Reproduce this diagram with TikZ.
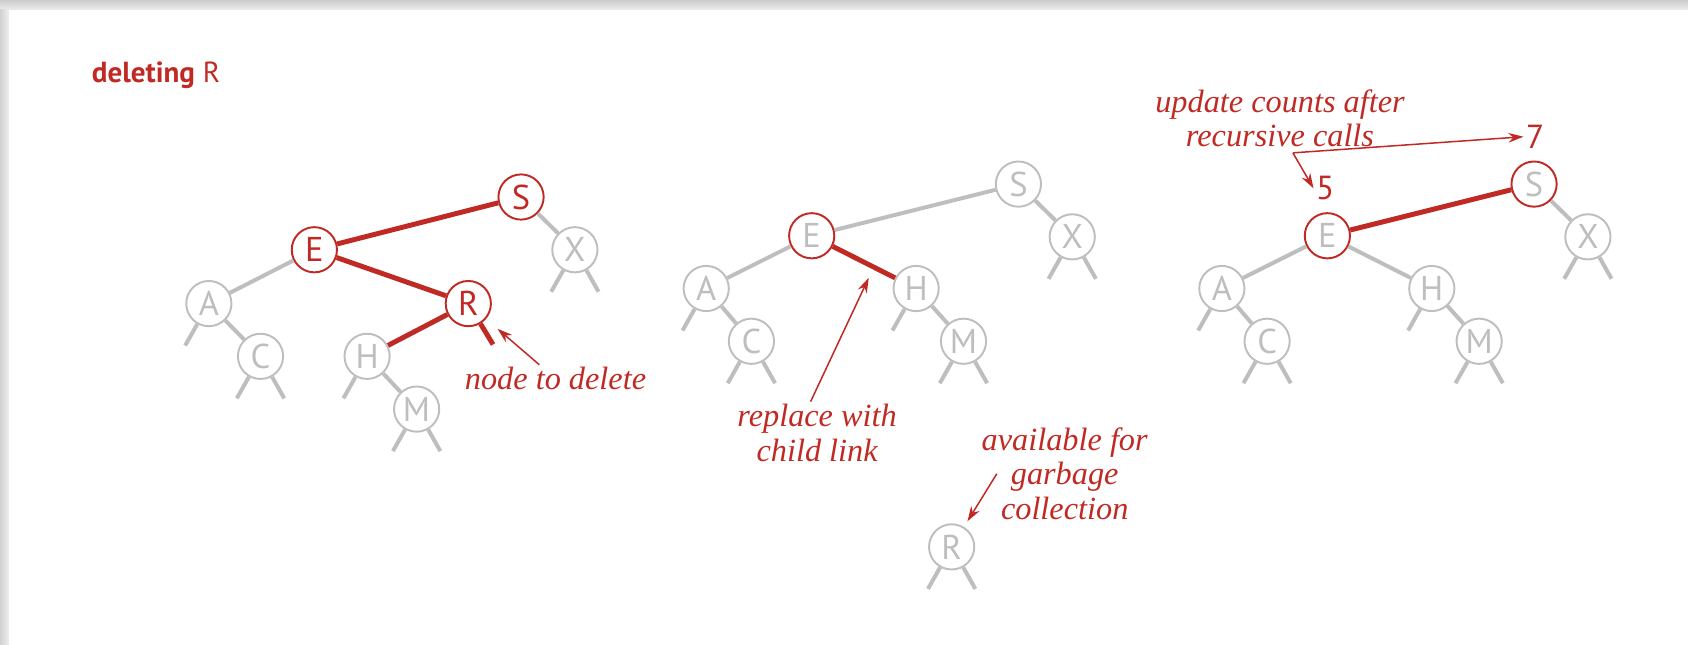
\documentclass[tikz,border=0pt]{standalone}
\usepackage{fontspec}
\setmainfont{Liberation Serif}
\setsansfont{PT Sans}
\usetikzlibrary{arrows.meta}

\definecolor{bstred}{RGB}{192,42,36}
\definecolor{bstgray}{RGB}{190,190,193}

\tikzset{
  bstnode/.style={circle, draw=bstgray, text=bstgray, line width=0.9pt,
    minimum size=21pt, inner sep=0pt, font=\sffamily\fontsize{16}{16}\selectfont},
  hotnode/.style={bstnode, draw=bstred, text=bstred},
  marknode/.style={bstnode, draw=bstred},
  treelink/.style={bstgray, line width=1.85pt},
  hotlink/.style={bstred, line width=2.3pt},
  remark/.style={text=bstred, align=center, inner sep=1pt,
    font=\itshape\fontsize{15}{16}\selectfont},
  sizelabel/.style={text=bstred, inner sep=1pt, font=\sffamily\fontsize{15.5}{15.5}\selectfont},
  pointer/.style={bstred, line width=0.7pt, -{Stealth[length=7pt, width=4.5pt]}}
}

\begin{document}
\begin{tikzpicture}[x=0.5pt, y=-0.5pt]
  \useasboundingbox (0,0) rectangle (1568,599);
  %--- page shadow ---
  \shade[top color=black!20, bottom color=black!8] (0,0) rectangle (1568,8.4);
  \shade[left color=black!18, right color=black!6] (0,8.4) rectangle (8.4,599);
  %--- title ---
  \node[anchor=base west, inner sep=0pt, text=bstred,
    font=\sffamily\fontsize{13.5}{13.5}\selectfont] (title) at (85,77) {\textbf{deleting} R};

  %--- tree 1: R found ---
  \node[hotnode] (s1) at (484,183) {S};
  \node[hotnode] (e1) at (292,232) {E};
  \node[bstnode] (x1) at (534,232) {X};
  \node[bstnode] (a1) at (194,282) {A};
  \node[hotnode] (r1) at (435,282) {R};
  \node[bstnode] (c1) at (242,331) {C};
  \node[bstnode] (h1) at (341,331) {H};
  \node[bstnode] (m1) at (387,380) {M};
  \draw[hotlink] (s1) -- (e1);
  \draw[hotlink] (e1) -- (r1);
  \draw[hotlink] (r1) -- (h1);
  \draw[hotlink] (r1) -- ++(23,38);
  \foreach \u/\v in {s1/x1, e1/a1, a1/c1, h1/m1}
    \draw[treelink] (\u) -- (\v);
  % null links
  \foreach \n in {a1, c1, h1, m1, x1}
    \draw[treelink] (\n) -- ++(-22,39);
  \foreach \n in {c1, m1, x1}
    \draw[treelink] (\n) -- ++(22,39);
  \node[remark, anchor=base] (deltxt) at (516,362) {node to delete};
  \draw[pointer, shorten >=7pt] (deltxt) -- (r1);

  %--- tree 2: link replaced ---
  \node[bstnode] (s2) at (946,171) {S};
  \node[marknode] (e2) at (754,219) {E};
  \node[bstnode] (x2) at (996,220) {X};
  \node[bstnode] (a2) at (656,268) {A};
  \node[bstnode] (h2) at (851,268) {H};
  \node[bstnode] (c2) at (698,317) {C};
  \node[bstnode] (m2) at (895,317) {M};
  \node[bstnode] (r2) at (884,508) {R};
  \draw[hotlink] (e2) -- (h2);
  \foreach \u/\v in {s2/e2, s2/x2, e2/a2, a2/c2, h2/m2}
    \draw[treelink] (\u) -- (\v);
  \foreach \n in {a2, c2, h2, m2, x2, r2}
    \draw[treelink] (\n) -- ++(-22,39);
  \foreach \n in {c2, m2, x2, r2}
    \draw[treelink] (\n) -- ++(22,39);
  \node[remark] (repltxt) at (759,402) {replace with\\child link};
  \coordinate (linkpt) at (807,258);
  \draw[pointer] ([xshift=-3pt]repltxt.north) -- (linkpt);
  \node[remark] (gctxt) at (989,440) {available for\\garbage\\collection};
  \coordinate (gcpt) at (926,440);
  \draw[pointer, shorten >=3pt] (gcpt) -- (r2);

  %--- tree 3: counts updated ---
  \node[marknode] (s3) at (1425,171) {S};
  \node[marknode] (e3) at (1233,219) {E};
  \node[bstnode] (x3) at (1475,220) {X};
  \node[bstnode] (a3) at (1135,268) {A};
  \node[bstnode] (h3) at (1330,268) {H};
  \node[bstnode] (c3) at (1177,317) {C};
  \node[bstnode] (m3) at (1374,317) {M};
  \draw[hotlink] (s3) -- (e3);
  \foreach \u/\v in {s3/x3, e3/a3, e3/h3, a3/c3, h3/m3}
    \draw[treelink] (\u) -- (\v);
  \foreach \n in {a3, c3, h3, m3, x3}
    \draw[treelink] (\n) -- ++(-22,39);
  \foreach \n in {c3, m3, x3}
    \draw[treelink] (\n) -- ++(22,39);
  \node[remark] (cnttxt) at (1189,110) {update counts after\\recursive calls};
  \node[sizelabel] (cnt7) at (1426,127) {7};
  \node[sizelabel] (cnt5) at (1231,175) {5};
  \coordinate (split) at (1201,142);
  \draw[pointer] (split) -- (cnt7.west);
  \draw[pointer] (split) -- (cnt5.west);
\end{tikzpicture}
\end{document}
